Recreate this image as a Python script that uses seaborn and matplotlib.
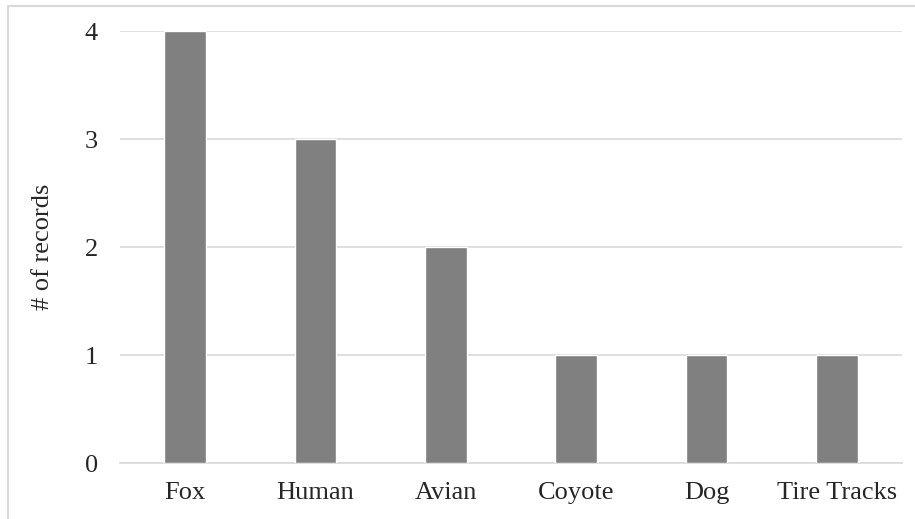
import matplotlib
matplotlib.use("Agg")
import matplotlib.pyplot as plt
from matplotlib.lines import Line2D
import seaborn as sns
import pandas as pd

categories = ["Fox", "Human", "Avian", "Coyote", "Dog", "Tire Tracks"]
records = [4, 3, 2, 1, 1, 1]
y_ticks = [0, 1, 2, 3, 4]

sns.set_theme(style="white")
plt.rcParams["font.family"] = ["Liberation Serif", "DejaVu Serif"]

df = pd.DataFrame({"category": categories, "records": records})

fig = plt.figure(figsize=(9.15, 5.19), dpi=100)
ax = fig.add_axes([120 / 915, 1 - 463 / 519, 782 / 915, 432 / 519])

sns.barplot(data=df, x="category", y="records", order=categories,
            color="#808080", saturation=1, width=0.32, ax=ax, zorder=3)

grid_color = "#d9d9d9"
ax.set_ylim(0, 4)
ax.set_yticks(y_ticks)
ax.yaxis.grid(True, color=grid_color, linewidth=1.2, zorder=0)
ax.set_axisbelow(True)
for side in ["top", "right", "left"]:
    ax.spines[side].set_visible(False)
ax.spines["bottom"].set_color(grid_color)
ax.spines["bottom"].set_linewidth(1.2)

text_color = "#262626"
ax.tick_params(axis="both", length=0, labelsize=19, colors=text_color)
ax.tick_params(axis="y", pad=16)
ax.tick_params(axis="x", pad=14)
ax.set_xlabel("")
ax.set_ylabel("# of records", fontsize=19, color=text_color)
ax.yaxis.set_label_coords(-0.084, 0.5)

# light frame along the top and left edges of the figure
fig.add_artist(Line2D([8 / 915, 8 / 915], [0, 1 - 6 / 519],
                      transform=fig.transFigure, color=grid_color, linewidth=1.5))
fig.add_artist(Line2D([8 / 915, 1], [1 - 6 / 519, 1 - 6 / 519],
                      transform=fig.transFigure, color=grid_color, linewidth=1.5))

fig.savefig("out.png", dpi=100, facecolor="white")
